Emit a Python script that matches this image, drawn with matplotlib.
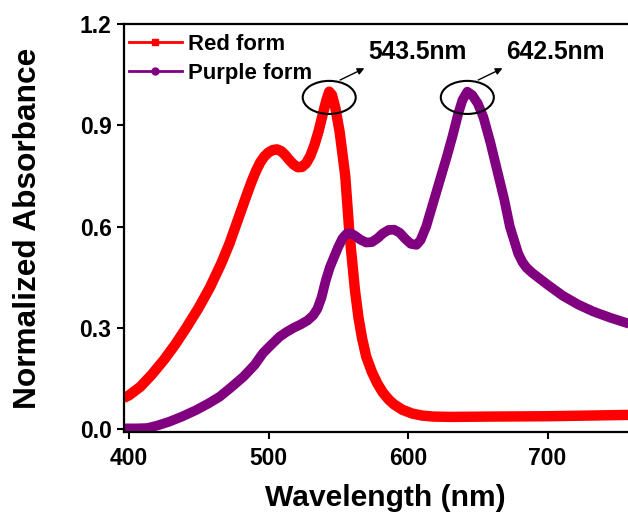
import numpy as np
import matplotlib
matplotlib.use("Agg")
import matplotlib.pyplot as plt
from matplotlib.lines import Line2D
from matplotlib.patches import Ellipse

plt.rcParams['font.family'] = ['Liberation Sans', 'DejaVu Sans']
plt.rcParams['font.weight'] = 'bold'

# Red form spectrum
red_wl = [396, 400, 408, 416, 425, 433, 441, 450, 458, 466, 472, 478, 484, 488, 491,
          494, 497, 500, 503, 506, 509, 512, 515, 518, 521, 524, 527, 530, 533, 536,
          539, 541.5, 543.5, 545.5, 548, 551, 555, 558, 562, 564.5, 567, 570, 574, 578,
          582, 586, 590, 596, 603, 610, 618, 630, 660, 700, 730, 760]
red_abs = [0.092, 0.10, 0.125, 0.16, 0.205, 0.25, 0.30, 0.36, 0.42, 0.49, 0.55, 0.62,
           0.69, 0.735, 0.765, 0.79, 0.808, 0.82, 0.827, 0.829, 0.824, 0.812, 0.797,
           0.784, 0.776, 0.777, 0.788, 0.81, 0.843, 0.885, 0.935, 0.975, 1.0, 0.99, 0.95,
           0.88, 0.75, 0.58, 0.41, 0.33, 0.27, 0.215, 0.17, 0.135, 0.108, 0.088, 0.073,
           0.057, 0.046, 0.040, 0.037, 0.036, 0.037, 0.038, 0.040, 0.042]

# Purple form spectrum
purple_wl = [396, 405, 413, 420, 429, 438, 448, 457, 465, 473, 482, 490, 496, 502, 508,
             513, 518, 523, 528, 532, 535, 538, 541, 544, 547, 550, 553, 556, 559, 562,
             566, 570, 574, 578, 582, 586, 590, 594, 598, 602, 606, 609, 613, 618, 623,
             628, 632, 636, 639, 642.5, 646, 650, 654, 659, 664, 669, 673, 676, 679, 682,
             685, 689, 694, 700, 711, 722, 733, 745, 760]
purple_abs = [0.002, 0.002, 0.003, 0.01, 0.022, 0.037, 0.056, 0.076, 0.096, 0.123,
              0.155, 0.19, 0.225, 0.25, 0.274, 0.288, 0.300, 0.310, 0.322, 0.337, 0.356,
              0.39, 0.44, 0.48, 0.51, 0.54, 0.565, 0.579, 0.58, 0.573, 0.561, 0.553,
              0.554, 0.565, 0.58, 0.590, 0.591, 0.582, 0.564, 0.549, 0.546, 0.56, 0.60,
              0.67, 0.74, 0.81, 0.87, 0.935, 0.975, 1.0, 0.99, 0.965, 0.925, 0.85, 0.765,
              0.68, 0.60, 0.56, 0.52, 0.495, 0.478, 0.463, 0.447, 0.428, 0.395, 0.369,
              0.348, 0.33, 0.31]

peaks = [543.5, 642.5]
peak_labels = ['543.5nm', '642.5nm']
xticks = [400, 500, 600, 700]
yticks = [0.0, 0.3, 0.6, 0.9, 1.2]

RED = '#ff0000'
PURPLE = '#800080'

fig = plt.figure(figsize=(6.28, 5.15), dpi=100)
ax = fig.add_axes([0.1975, 0.161, 0.8025, 0.792])

ax.plot(red_wl, red_abs, color=RED, lw=7.5, solid_joinstyle='round', solid_capstyle='butt')
ax.plot(purple_wl, purple_abs, color=PURPLE, lw=7, solid_joinstyle='round', solid_capstyle='butt')

ax.set_xlim(396.4, 757.7)
ax.set_ylim(-0.009, 1.2)
ax.set_xticks(xticks)
ax.set_yticks(yticks)
ax.set_yticklabels([f'{v:.1f}' for v in yticks])
ax.tick_params(direction='out', length=5, width=1.5, labelsize=16.5, pad=4)
ax.tick_params(axis='x', pad=6)
for lbl in ax.get_xticklabels() + ax.get_yticklabels():
    lbl.set_fontweight('bold')
for side in ['left', 'bottom', 'top']:
    ax.spines[side].set_linewidth(1.6)
ax.spines['right'].set_visible(False)

ax.set_xlabel('Wavelength (nm)', fontsize=21.6, fontweight='bold', labelpad=10)
ax.xaxis.label.set_x(0.518)
ax.set_ylabel('Normalized Absorbance', fontsize=22.8, fontweight='bold', labelpad=26)

# ellipses around peaks with arrows and labels
for pk, txt in zip(peaks, peak_labels):
    ax.add_patch(Ellipse((pk, 0.983), 38, 0.098, fill=False, ec='black', lw=1.5, zorder=5))
    ax.annotate('', xy=(pk + 27, 1.073), xytext=(pk + 6, 1.031),
                arrowprops=dict(arrowstyle='-|>', color='black', lw=1, mutation_scale=10))
    ax.text(pk + 28, 1.117, txt, fontsize=17.7, fontweight='bold', va='center', ha='left')

handles = [Line2D([], [], color=RED, lw=2, marker='s', markersize=5),
           Line2D([], [], color=PURPLE, lw=2, marker='o', markersize=5)]
ax.legend(handles, ['Red form', 'Purple form'], loc='upper left', frameon=False,
          bbox_to_anchor=(-0.03, 1.025), handlelength=2.4,
          handletextpad=0.3, labelspacing=0.35, prop={'weight': 'bold', 'size': 15.9})

fig.savefig('out.png', dpi=100)
